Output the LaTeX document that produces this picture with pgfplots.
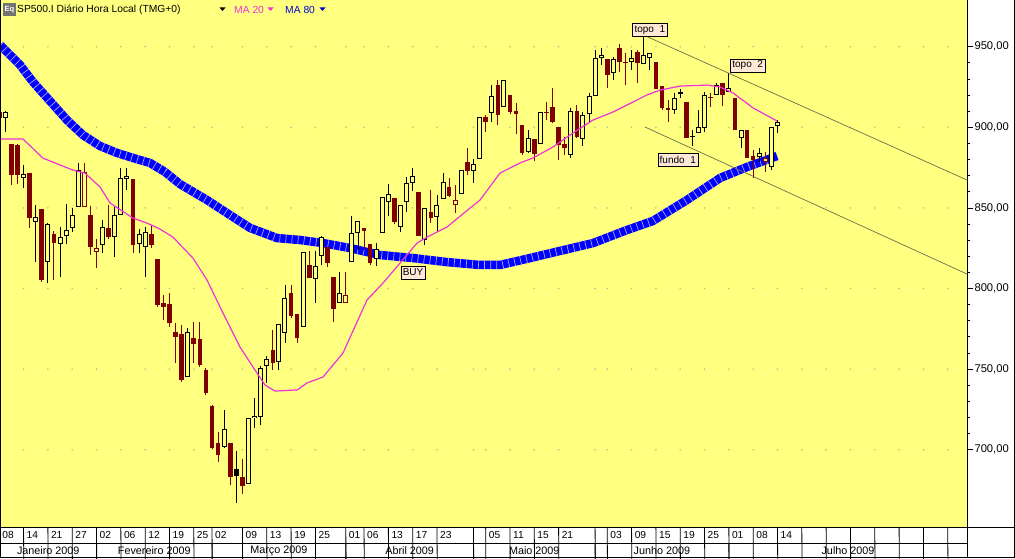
\documentclass[border=0pt]{standalone}
\usepackage{pgfplots}
\pgfplotsset{compat=1.18}
\usepackage{pgfplotstable}
\usepackage{fontspec}
\setmainfont{Liberation Sans}

\definecolor{bg}{RGB}{255,255,128}
\definecolor{dkred}{RGB}{128,0,0}
\definecolor{ma20}{RGB}{240,50,220}
\definecolor{ma80}{RGB}{0,0,255}
\definecolor{boxfill}{RGB}{255,232,214}
\definecolor{gdot}{RGB}{190,190,150}
\definecolor{chan}{RGB}{110,110,80}

% daily candles, i = trading day (0 = 9 Jan 2009)
% t: 1 hollow black, 2 filled black, 3 hollow red, 4 filled red
\pgfplotstableread{
i O H L C t
-1 909.5 910.1 905.2 905.8 4
0 905.8 910.1 897.1 909.5 1
1 889.6 889.6 864.2 870.4 4
2 889.0 889.6 864.8 870.4 4
3 868.5 876.6 862.4 871.0 1
4 871.7 871.7 837.6 843.7 4
5 841.3 851.8 816.5 844.4 1
6 849.3 849.3 804.0 805.3 4
7 816.5 840.6 803.4 840.0 1
8 833.8 835.7 805.3 828.2 4
9 827.6 838.2 807.2 831.9 1
10 832.6 852.4 827.6 836.3 1
11 837.6 849.9 835.1 845.6 1
12 850.6 877.9 850.6 873.5 1
13 850.6 877.9 850.6 872.3 3
14 845.6 851.2 820.8 825.8 4
15 822.7 830.7 812.7 825.1 3
16 827.0 842.5 822.0 838.2 1
17 837.6 851.8 830.5 831.9 4
18 831.9 850.6 819.6 845.6 1
19 845.6 874.8 845.6 868.6 1
20 867.9 874.8 861.1 869.8 1
21 867.9 867.9 822.0 827.0 4
22 827.6 837.0 822.0 833.8 1
23 825.8 838.2 807.2 835.1 1
24 833.8 839.4 825.1 827.0 4
25 818.3 818.3 788.5 789.8 4
26 791.0 796.0 780.5 788.5 4
27 790.4 797.2 776.1 778.6 4
28 773.0 778.6 753.8 769.9 4
29 771.8 777.4 742.0 743.3 4
30 745.1 775.5 745.1 773.0 1
31 769.3 779.2 753.8 765.6 4
32 768.7 779.2 751.3 752.6 4
33 749.5 750.7 734.0 735.2 4
34 727.1 727.7 700.5 701.1 4
35 704.2 711.0 692.4 696.7 4
36 701.7 724.6 701.1 712.9 1
37 704.2 704.2 678.1 683.1 4
38 688.0 699.2 666.9 683.7 2
39 683.1 694.3 672.5 677.5 4
40 678.7 719.7 678.7 719.7 1
41 719.7 732.1 713.5 721.0 1
42 720.3 751.9 715.4 750.7 1
43 751.9 758.1 741.4 756.3 1
44 761.9 774.3 749.5 753.8 4
45 754.4 778.0 749.5 778.0 1
46 772.4 802.2 766.2 794.1 1
47 797.2 802.2 781.7 783.0 4
48 784.2 784.2 766.2 769.3 4
49 776.1 822.7 776.1 822.7 1
50 814.6 823.3 806.5 806.5 4
51 805.9 823.3 791.0 814.0 1
52 820.2 832.6 814.6 831.9 1
53 825.8 825.8 813.3 815.8 4
54 807.2 807.2 779.2 787.3 4
55 791.0 810.2 791.0 797.2 1
56 791.0 810.2 791.0 796.0 3
57 816.5 845.0 816.5 834.4 1
58 834.4 841.9 823.9 841.9 1
59 837.6 837.6 823.9 835.7 4
60 827.6 827.6 814.6 815.8 4
61 818.3 828.2 814.0 824.5 1
62 834.4 856.8 834.4 856.8 1
63 853.7 864.8 845.0 858.6 1
64 856.2 856.2 840.0 841.3 4
65 838.2 851.8 835.1 851.8 1
66 853.7 869.2 847.5 865.5 1
67 865.5 874.8 860.5 869.8 1
68 859.9 859.9 832.6 832.6 4
69 830.1 849.9 827.0 849.9 1
70 847.5 861.1 840.6 843.7 4
71 844.4 858.0 835.1 851.8 1
72 855.5 871.7 855.5 866.1 1
73 863.0 868.6 856.8 857.4 4
74 851.8 864.2 846.8 854.9 3
75 858.6 873.5 858.6 873.5 1
76 878.5 887.2 870.4 872.9 4
77 872.9 880.4 865.5 877.2 1
78 880.4 906.4 880.4 906.4 1
79 906.4 907.6 897.1 903.3 4
80 908.9 926.2 903.3 919.4 1
81 926.2 929.3 901.4 907.6 4
82 912.6 929.3 912.6 929.3 1
83 920.1 920.1 908.3 909.5 4
84 910.1 915.1 895.9 908.3 4
85 901.4 901.4 882.8 884.1 4
86 884.7 898.3 884.1 893.4 1
87 892.7 892.7 879.1 883.4 4
88 889.6 909.5 889.6 909.5 1
89 909.5 915.7 904.5 908.6 4
90 912.6 924.4 902.7 903.3 4
91 900.2 900.2 879.7 889.0 4
92 889.6 894.0 882.8 887.2 4
93 882.8 912.0 880.9 910.1 1
94 910.1 913.8 893.4 894.0 4
95 892.7 909.5 888.4 907.6 1
96 908.3 921.3 903.3 919.4 1
97 919.4 947.9 919.4 943.0 1
98 943.0 949.2 938.7 944.9 1
99 942.4 942.4 924.4 932.4 4
100 933.7 943.6 929.3 942.4 1
101 949.2 951.7 934.3 940.5 4
102 940.5 946.1 926.2 939.9 4
103 940.5 947.9 935.6 943.0 1
104 946.7 947.9 927.5 939.9 4
105 939.3 956.0 939.3 944.9 1
106 943.0 946.1 935.6 946.1 1
107 940.5 940.5 923.8 923.8 4
108 925.6 925.6 910.7 912.0 4
109 912.0 916.9 903.3 910.7 4
110 910.7 921.3 908.3 918.2 1
111 920.7 923.8 918.2 921.9 1
112 915.7 915.7 893.4 893.4 4
113 894.6 898.3 888.4 894.0 2
114 896.5 910.7 896.5 900.2 1
115 899.6 921.9 897.1 920.1 1
116 918.8 921.3 912.6 917.9 4
117 920.1 927.5 920.1 926.2 1
118 927.5 927.5 913.2 920.1 4
119 921.9 933.7 921.9 924.4 1
120 918.2 918.2 898.3 898.3 4
121 893.4 898.3 887.2 898.3 1
122 898.3 898.3 880.9 880.9 4
123 882.2 885.9 868.6 879.7 4
124 881.6 887.2 878.5 884.1 1
125 878.5 884.7 872.3 880.9 3
126 875.4 900.2 873.5 900.2 1
127 900.8 904.5 896.5 903.3 1
}\candles

\pgfplotstableread{
i ma
-0.87 951.1
-0.38 949.2
2.42 938.7
4.56 928.1
7.35 916.3
10.15 904.5
12.78 895.2
15.58 888.4
18.37 884.1
21.0 881.0
23.8 877.9
26.27 872.3
28.73 864.8
33.17 854.9
37.45 844.4
40.25 837.6
44.69 831.3
48.47 830.1
52.25 828.2
56.7 825.1
61.6 820.8
67.06 818.9
72.65 816.4
78.08 814.6
81.36 814.6
86.3 818.9
91.2 823.3
96.66 828.2
102.25 836.3
106.5 841.9
112.1 854.9
117.57 868.6
122.0 875.4
126.93 882.2
}\maeighty

\pgfplotstableread{
i ma
-0.87 892.7
2.91 892.7
6.2 880.9
9.0 876.6
11.13 873.5
13.1 871.6
15.58 863.0
17.22 853.1
21.0 843.7
23.3 840.6
25.44 836.9
27.57 831.9
30.86 818.9
33.17 805.3
35.8 784.8
38.6 763.7
40.74 751.3
42.7 740.2
44.35 736.4
48.0 737.1
49.6 741.4
52.25 745.1
55.54 760.0
59.49 792.9
62.12 803.4
64.92 815.8
67.71 828.2
69.36 831.9
72.65 838.2
76.43 849.9
78.08 854.9
81.36 871.6
84.66 877.9
86.8 881.0
90.08 887.8
93.37 896.5
96.66 904.5
99.95 909.5
105.54 920.1
107.7 923.1
111.0 925.6
115.4 926.2
117.57 925.0
119.7 921.3
123.0 912.0
126.93 903.9
}\matwenty

\pgfplotsset{
  wick/.style={draw=none, mark=none, forget plot,
    error bars/.cd, y dir=minus, y explicit, error mark=none,
    error bar style={draw=#1, line width=0.9pt, solid}, /pgfplots/.cd},
  body/.style 2 args={draw=none, mark=none, forget plot,
    error bars/.cd, y dir=minus, y explicit, error mark=none,
    error bar style={draw=#1, line width=#2, solid}, /pgfplots/.cd},
}

\begin{document}
\begin{tikzpicture}
\fill[white] (0,-31pt) rectangle (1015pt,527pt);
\begin{axis}[
  at={(0,0)}, anchor=south west,
  scale only axis, width=967pt, height=527pt,
  xmin=-0.872, xmax=158.17, ymin=652.07, ymax=978.97,
  clip=false,
  axis background/.style={fill=bg},
  axis x line*=bottom, axis y line*=right,
  axis line style={black, line width=0.8pt},
  xtick=\empty,
  ytick={700,750,...,950},
  minor y tick num=4,
  tick align=outside,
  major tick length=6pt, minor tick length=3pt,
  every tick/.style={black, line width=0.8pt},
  scaled y ticks=false,
  yticklabel style={/pgf/number format/.cd, fixed, fixed zerofill, precision=2, use comma, assume math mode=true, /tikz/.cd, font=\fontsize{11.2}{13}\selectfont, xshift=-2pt},
]

% grid dots at the date columns
\foreach \u in {3,7,11,15,19,23,27,31,34,39,43,47,51,56,59,63,67,71,77,79,83,87,91,97,99,103,107,111,115,119,123,127,131,135,139,143,147,151,155}{
  \foreach \yy in {700,750,800,850,900,950}{
    \edef\tmp{\noexpand\fill[gdot] (axis cs:\u,\yy) circle[radius=0.9pt];}\tmp
  }
}

% MA 80
\addplot[ma80, line width=8.5pt, line join=round] table[x=i, y=ma] {\maeighty};
\addplot[white!65!blue, line width=8.5pt, line join=round, dash pattern=on 0.7pt off 5.38pt] table[x=i, y=ma] {\maeighty};

% wicks
\addplot[wick=black, restrict expr to domain={\thisrow{t}}{1:2}]
  table[x=i, y=H, y error expr={\thisrow{H}-\thisrow{L}}] {\candles};
\addplot[wick=dkred, restrict expr to domain={\thisrow{t}}{3:4}]
  table[x=i, y=H, y error expr={\thisrow{H}-\thisrow{L}}] {\candles};

% bodies
\addplot[body={black}{5pt}, restrict expr to domain={\thisrow{t}}{1:1}]
  table[x=i, y=C, y error expr={max(\thisrow{C}-\thisrow{O},0.6)}] {\candles};
\addplot[body={dkred}{5pt}, restrict expr to domain={\thisrow{t}}{3:3}]
  table[x=i, y=C, y error expr={max(\thisrow{C}-\thisrow{O},0.6)}] {\candles};
\addplot[body={bg}{3pt}, restrict expr to domain={\thisrow{t}}{1:1}]
  table[x=i, y expr={\thisrow{C}-0.62}, y error expr={max(\thisrow{C}-\thisrow{O}-1.24,0)}] {\candles};
\addplot[body={bg}{3pt}, restrict expr to domain={\thisrow{t}}{3:3}]
  table[x=i, y expr={\thisrow{C}-0.62}, y error expr={max(\thisrow{C}-\thisrow{O}-1.24,0)}] {\candles};
\addplot[body={black}{4.6pt}, restrict expr to domain={\thisrow{t}}{2:2}]
  table[x=i, y=O, y error expr={max(\thisrow{O}-\thisrow{C},0.6)}] {\candles};
\addplot[body={dkred}{4.6pt}, restrict expr to domain={\thisrow{t}}{4:4}]
  table[x=i, y=O, y error expr={max(\thisrow{O}-\thisrow{C},0.6)}] {\candles};

% MA 20
\addplot[ma20, line width=1.2pt, line join=round] table[x=i, y=ma] {\matwenty};

% channel
\addplot[chan, line width=0.7pt] coordinates {(105.7,956.0) (158.17,867.3)};
\addplot[chan, line width=0.7pt] coordinates {(105.2,900.2) (158.17,809.0)};

% annotations
\tikzset{lbl/.style={draw=black, fill=boxfill, font=\fontsize{10}{11}\selectfont, inner xsep=2pt, inner ysep=1pt, minimum height=13pt}}
\node[lbl] at (axis cs:106.0,960.4) {topo\ \ 1};
\node[lbl] at (axis cs:122.1,938.4) {topo\ \ 2};
\node[lbl] at (axis cs:110.6,880.0) {fundo\ \ 1};
\node[lbl] at (axis cs:67.06,809.9) {BUY};

% date strip: day row
\foreach \u/\lab in {-1/08, 3/14, 7/21, 11/27, 15/02, 19/06, 23/12, 27/19, 31/25, 34/02, 39/09, 43/13, 47/19, 51/25, 56/01, 59/06, 63/13, 67/17, 71/23, 77/{}, 79/05, 83/11, 87/15, 91/21, 97/{}, 99/03, 103/09, 107/15, 111/19, 115/25, 119/01, 123/08, 127/14, 131/{}, 135/{}, 139/{}, 143/{}, 147/{}, 151/{}, 155/{}}{
  \edef\tmp{\noexpand\draw[black, line width=0.8pt] (axis cs:\u,652.07) -- ++(0,-16pt);
    \noexpand\node[anchor=west, inner sep=0pt, font=\noexpand\fontsize{10.2}{12}\noexpand\selectfont] at ([xshift=3pt,yshift=-8pt]axis cs:\u,652.07) {\lab};}\tmp
}
% month row
\foreach \u in {15,34,56,77,97,119}{
  \edef\tmp{\noexpand\draw[black, line width=0.8pt] ([yshift=-16pt]axis cs:\u,652.07) -- ++(0,-15pt);}\tmp
}
\foreach \u/\lab in {7.06/Janeiro 2009, 24.5/Fevereiro 2009, 45/Março 2009, 66.5/Abril 2009, 87/Maio 2009, 108/Junho 2009, 138.6/Julho 2009}{
  \edef\tmp{\noexpand\node[inner sep=0pt, font=\noexpand\fontsize{10.8}{12}\noexpand\selectfont] at ([yshift=-23.5pt]axis cs:\u,652.07) {\lab};}\tmp
}
\end{axis}
% header (page coordinates: top edge at 527pt)
\node[fill=black!55, text=white, font=\bfseries\fontsize{7.5}{8}\selectfont, inner sep=0.5pt, minimum size=13pt] at (9.5pt,517.5pt) {Eq};
\node[anchor=west, inner sep=0pt, font=\fontsize{10.3}{12}\selectfont] at (17pt,517.5pt) {SP500.I Diário Hora Local (TMG+0)};
\fill[black] (219.5pt,519.5pt) -- (225.5pt,519.5pt) -- (222.5pt,516pt) -- cycle;
\node[anchor=west, inner sep=0pt, text=ma20, font=\fontsize{10.3}{12}\selectfont] at (234pt,517.5pt) {MA 20};
\fill[ma20] (267.5pt,519.5pt) -- (273.5pt,519.5pt) -- (270.5pt,516pt) -- cycle;
\node[anchor=west, inner sep=0pt, text=blue!80!black, font=\fontsize{10.3}{12}\selectfont] at (285pt,517.5pt) {MA 80};
\fill[blue!80!black] (319.5pt,519.5pt) -- (325.5pt,519.5pt) -- (322.5pt,516pt) -- cycle;
% frame lines
\draw[black, line width=0.8pt] (0.4pt,-31pt) -- (0.4pt,527pt);
\draw[black, line width=0.8pt] (0,0) -- (1015pt,0);
\draw[black, line width=0.8pt] (0,-16pt) -- (967pt,-16pt);
\draw[black, line width=0.8pt] (967pt,0) -- (967pt,-31pt);
\draw[black, line width=0.8pt] (0,-30.6pt) -- (1015pt,-30.6pt);
\draw[black, line width=0.8pt] (1014.6pt,-31pt) -- (1014.6pt,527pt);
\pgfresetboundingbox
\path (0,-31pt) rectangle (1015pt,527pt);
\end{tikzpicture}
\end{document}
